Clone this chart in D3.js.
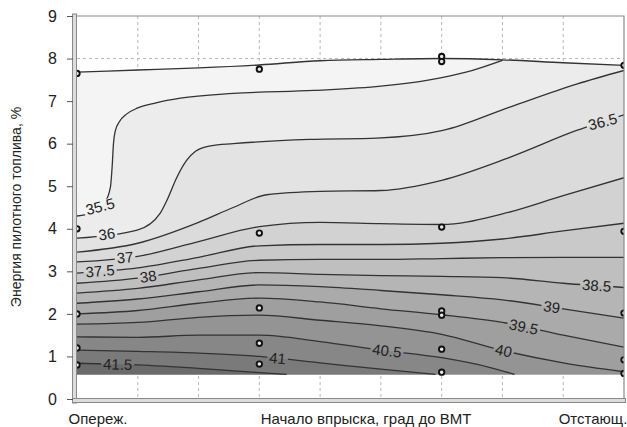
<!DOCTYPE html>
<html>
<head>
<meta charset="utf-8">
<script src="https://cdn.jsdelivr.net/npm/d3@7"></script>
<style>
body { margin: 0; background: #fff; }
text { font-family: "Liberation Sans Narrow", "Arial Narrow", "Liberation Sans", Arial, sans-serif; fill: #222; }
</style>
</head>
<body>
<svg id="chart" width="627" height="427"></svg>
<script>

// contour levels, from the light top to the dark bottom
var levels = [35.5, 36, 36.5, 37, 37.5, 38, 38.5, 39, 39.5, 40, 40.5, 41, 41.5]

// contour lines: [x (0..9), energy %]
var c355 = [[0,4.3],[0.25,4.38],[0.45,4.6],[0.55,4.98],[0.58,5.5],[0.6,6.0],[0.63,6.3],[0.7,6.52],[0.82,6.7],[1.0,6.84],[1.3,6.96],[1.7,7.07],[2.57,7.18],[3.9,7.25],[5.0,7.35],[5.8,7.5],[6.4,7.68],[7.0,7.96]]
var c36  = [[0,3.78],[0.99,3.97],[1.37,4.37],[1.48,4.67],[1.64,5.2],[1.8,5.6],[1.95,5.82],[2.2,5.95],[2.57,6.0],[3.83,6.1],[4.93,6.13],[6.02,6.31],[7.12,6.86],[8.22,7.4],[9,7.72]]
var c365 = [[0,3.45],[1,3.66],[2,4.15],[2.57,4.5],[3.12,4.8],[4,4.88],[5,4.9],[6,5.14],[7.12,5.68],[8.22,6.31],[9,6.68]]
var c37  = [[0,3.22],[1,3.35],[2,3.7],[3,4.05],[4,4.15],[5,4.12],[6,4.1],[7,4.35],[8,4.78],[9,5.2]]
var c375 = [[0,2.96],[1,3.08],[2,3.33],[3,3.6],[4,3.63],[5,3.63],[6,3.66],[7,3.76],[8,3.95],[9,4.13]]
var c38  = [[0,2.72],[1,2.84],[2,3.07],[3,3.26],[4,3.28],[5,3.28],[6,3.3],[7,3.32],[8,3.33],[9,3.33]]
var c385 = [[0,2.49],[1,2.6],[2,2.8],[3,2.97],[4,2.93],[5,2.9],[6,2.88],[7,2.85],[8,2.72],[9,2.62]]
var c39  = [[0,2.25],[1,2.35],[2,2.52],[3,2.68],[4,2.64],[5,2.55],[6,2.45],[7,2.33],[8,2.12],[9,1.9]]
var c395 = [[0,2.0],[1,2.08],[2,2.25],[3,2.37],[4,2.28],[5,2.12],[6,1.98],[7,1.8],[8,1.5],[9,1.22]]
var c40  = [[0,1.76],[1,1.8],[2,1.92],[3,1.97],[4,1.85],[5,1.72],[6,1.52],[7,1.14],[8,0.85],[9,0.64]]
var c405 = [[0,1.46],[1,1.45],[2,1.5],[3,1.5],[4,1.35],[5,1.15],[6,0.97],[6.8,0.74],[7.2,0.58]]
var c41  = [[0,1.15],[1,1.12],[2,1.08],[3,1.0],[4,0.85],[5,0.7],[5.9,0.58]]
var c415 = [[0,0.84],[1,0.8],[2,0.72],[3,0.62],[3.45,0.58]]
var contourLines = [c355, c36, c365, c37, c375, c38, c385, c39, c395, c40, c405, c41, c415]

// where each level's label sits along x
var labelX = [0.38, 0.49, 8.65, 0.79, 0.38, 1.17, 8.55, 7.81, 7.35, 7.02, 5.1, 3.3, 0.67]

// edge of the measured area
var hullTop = [[0,7.68],[1,7.73],[2,7.78],[3,7.85],[4,7.95],[5,7.98],[6,8.0],[7,7.97],[8,7.9],[9,7.84]]
var hullBottom = 0.58

// measured points
var ptsX = [0,0,0,0,0, 3,3,3,3,3, 6,6,6,6,6,6,6, 9,9,9,9,9]
var ptsY = [7.65,4.0,2.0,1.2,0.8, 7.75,3.9,2.14,1.31,0.82, 8.05,7.93,4.04,2.07,1.97,1.17,0.63, 7.84,3.94,2.02,0.92,0.6]

var yTicks = [0,1,2,3,4,5,6,7,8,9]
var gridX = [1,2,3,4,5,6,7,8]
var xLabelLeft = 'Опереж.'
var xLabelRight = 'Отстающ.'
var xTitle = 'Начало впрыска, град до ВМТ'
var yTitle = 'Энергия пилотного топлива, %'

///////////////////////////////

var svg = d3.select('#chart')
var x = d3.scaleLinear().domain([0, 9]).range([77, 624])
var y = d3.scaleLinear().domain([0, 9]).range([399, 16])
var gray = d3.scaleLinear().domain([35.25, 41.75]).range(['#f4f4f4', '#6b6b6b'])
    .interpolate(d3.interpolateRgb.gamma(1.8))

var defs = svg.append('defs')
defs.append('clipPath').attr('id', 'plotclip')
    .append('rect').attr('x', 77).attr('y', 16).attr('width', 547).attr('height', 383)

// grid
var grid = svg.append('g').attr('stroke', '#b8b8b8').attr('stroke-dasharray', '3,3')
grid.selectAll('.gx').data(gridX).enter().append('line')
    .attr('x1', d => x(d)).attr('x2', d => x(d)).attr('y1', 16).attr('y2', 399)
grid.selectAll('.gy').data(yTicks.slice(1, 9)).enter().append('line')
    .attr('x1', 77).attr('x2', 624).attr('y1', d => y(d)).attr('y2', d => y(d))

var plot = svg.append('g').attr('clip-path', 'url(#plotclip)')

// a line that runs into the top edge keeps following that edge
function extendToTop(pts) {
    var last = pts[pts.length - 1]
    if (last[0] >= 9 || last[1] <= hullBottom + 0.01) return pts
    return pts.concat(hullTop.filter(p => p[0] > last[0]))
}

var area = d3.area().curve(d3.curveMonotoneX)
    .x(d => x(d[0])).y1(d => y(d[1])).y0(y(hullBottom))
var line = d3.line().curve(d3.curveMonotoneX)
    .x(d => x(d[0])).y(d => y(d[1]))

// whole measured area, lightest band
plot.append('path').attr('d', area(hullTop)).attr('fill', gray(levels[0] - 0.25))

// each band painted over the previous one
plot.selectAll('.band').data(levels).enter().append('path')
    .attr('d', (d, i) => area(extendToTop(contourLines[i])))
    .attr('fill', d => gray(d + 0.25))

// labels on the contour lines
function yAt(pts, xv) {
    for (var k = 1; k < pts.length; k++) {
        if (xv <= pts[k][0]) {
            var t = (xv - pts[k-1][0]) / (pts[k][0] - pts[k-1][0])
            return pts[k-1][1] + t * (pts[k][1] - pts[k-1][1])
        }
    }
    return pts[pts.length - 1][1]
}

var mask = defs.append('mask').attr('id', 'lblmask')
    .attr('maskUnits', 'userSpaceOnUse').attr('x', 0).attr('y', 0).attr('width', 627).attr('height', 427)
mask.append('rect').attr('width', 627).attr('height', 427).attr('fill', '#fff')

var labels = levels.map(function(lv, i) {
    var pts = contourLines[i]
    var lx = labelX[i]
    var px = x(lx), py = y(yAt(pts, lx))
    var dx = x(lx + 0.2) - x(lx - 0.2)
    var dy = y(yAt(pts, lx + 0.2)) - y(yAt(pts, lx - 0.2))
    var ang = Math.max(-14, Math.min(18, Math.atan2(dy, dx) * 180 / Math.PI))
    return { text: String(lv), px: px, py: py, ang: ang }
})

var lblG = plot.append('g')
lblG.selectAll('g').data(labels).enter().append('g')
    .attr('transform', d => 'translate(' + d.px + ',' + d.py + ') rotate(' + d.ang + ')')
    .append('text')
    .attr('text-anchor', 'middle').attr('dy', '0.35em')
    .style('font-size', '15px')
    .text(d => d.text)
    .each(function(d) { d.w = this.getComputedTextLength() })

mask.selectAll('.m').data(labels).enter().append('rect')
    .attr('transform', d => 'translate(' + d.px + ',' + d.py + ') rotate(' + d.ang + ')')
    .attr('x', d => -d.w / 2 - 2).attr('y', -6).attr('width', d => d.w + 4).attr('height', 12)
    .attr('fill', '#000')

plot.insert('g', function() { return lblG.node() })
    .attr('mask', 'url(#lblmask)')
    .selectAll('path').data(contourLines).enter().append('path')
    .attr('d', d => line(d))
    .attr('fill', 'none').attr('stroke', '#333').attr('stroke-width', 1.3)

// top edge of the measured area
plot.append('path').attr('d', line(hullTop))
    .attr('fill', 'none').attr('stroke', '#333').attr('stroke-width', 1.4)

// measured points
plot.selectAll('circle').data(ptsX).enter().append('circle')
    .attr('cx', d => x(d)).attr('cy', (d, i) => y(ptsY[i]))
    .attr('r', 2.7).attr('fill', '#e8e8e8').attr('stroke', '#111').attr('stroke-width', 1.9)

// frame
svg.append('path').attr('d', 'M77,16H624V399')
    .attr('fill', 'none').attr('stroke', '#8a8a8a').attr('stroke-width', 1.2)
svg.append('rect').attr('x', 72.5).attr('y', 14).attr('width', 4).attr('height', 389)
    .attr('fill', '#dcdcdc').attr('stroke', '#8a8a8a').attr('stroke-width', 1)
svg.append('rect').attr('x', 72.5).attr('y', 398.5).attr('width', 553).attr('height', 4)
    .attr('fill', '#dcdcdc').attr('stroke', '#8a8a8a').attr('stroke-width', 1)

var yAxis = svg.append('g').attr('transform', 'translate(73,0)')
    .call(d3.axisLeft(y).tickValues(yTicks).tickSize(6).tickPadding(10).tickFormat(d3.format('d')))
yAxis.select('.domain').remove()
yAxis.selectAll('line').attr('stroke', '#555')
yAxis.selectAll('text').style('font-size', '16px').attr('fill', '#222')

svg.append('text').attr('x', 98).attr('y', 424).attr('text-anchor', 'middle')
    .style('font-size', '15px').text(xLabelLeft)
svg.append('text').attr('x', 593).attr('y', 424).attr('text-anchor', 'middle')
    .style('font-size', '15px').text(xLabelRight)
svg.append('text').attr('x', 366).attr('y', 424).attr('text-anchor', 'middle')
    .style('font-size', '15px').text(xTitle)
svg.append('text').attr('transform', 'translate(21,207) rotate(-90)').attr('text-anchor', 'middle')
    .style('font-size', '14px').text(yTitle)

</script>
</body>
</html>
